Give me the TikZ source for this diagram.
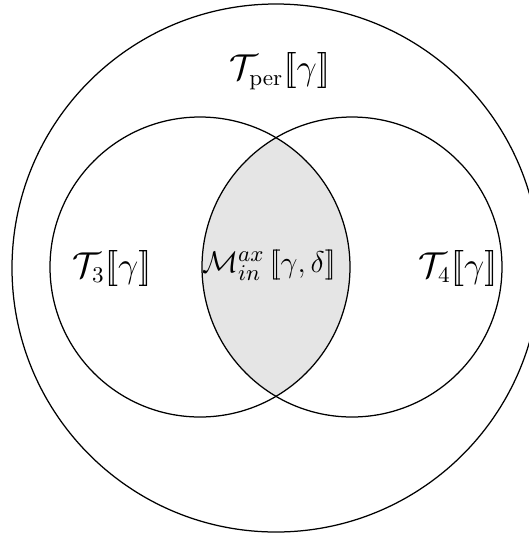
\documentclass[tikz,border=0pt]{standalone}
\newcommand\dblopen{\mathopen{[\mkern-3.2mu[}}
\newcommand\dblclose{\mathclose{]\mkern-3.2mu]}}
\tikzset{
  setline/.style={draw=black, line width=0.5pt},
  setlabel/.style={inner sep=0pt, font=\fontsize{13.5}{16}\selectfont}
}
\begin{document}
\begin{tikzpicture}[x=0.4pt, y=-0.4pt]
  \useasboundingbox (0,0) rectangle (529,535);
  \clip (0,0) rectangle (529,535);
  \coordinate (cbig) at (276,268);
  \coordinate (cl) at (200,267);
  \coordinate (cr) at (352,267);
  \begin{scope}
    \clip (cl) circle [radius=150*0.4pt];
    \fill[gray!20] (cr) circle [radius=150*0.4pt];
  \end{scope}
  \draw[setline] (cbig) circle [radius=264*0.4pt];
  \draw[setline] (cl) circle [radius=150*0.4pt];
  \draw[setline] (cr) circle [radius=150*0.4pt];
  \node[setlabel] (tper) at (280,71) {$\mathcal{T}_{\mathrm{per}}\dblopen\gamma\dblclose$};
  \node[setlabel] (t3) at (112,268) {$\mathcal{T}_3\dblopen\gamma\dblclose$};
  \node[setlabel] (t4) at (458,268) {$\mathcal{T}_4\dblopen\gamma\dblclose$};
  \node[setlabel, font=\fontsize{12.5}{15}\selectfont] (m) at (269,265) {$\mathcal{M}^{ax}_{in}\,\dblopen\gamma,\delta\dblclose$};
\end{tikzpicture}
\end{document}
